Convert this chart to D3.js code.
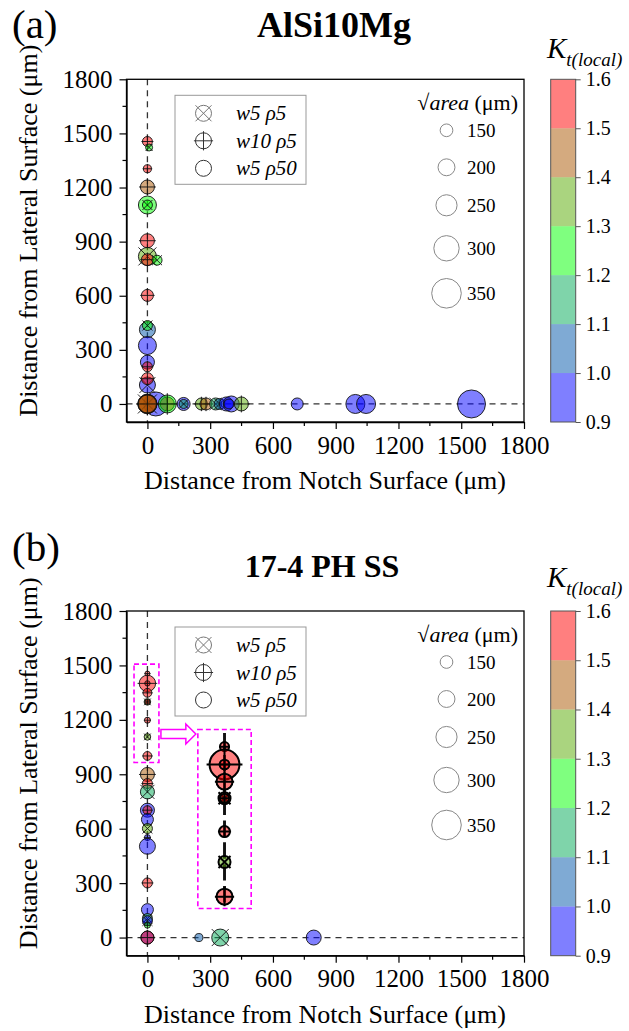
<!DOCTYPE html>
<html>
<head>
<meta charset="utf-8">
<script src="https://cdn.jsdelivr.net/npm/d3@7"></script>
<style>
  body { margin: 0; background: #fff; }
  svg { display: block; }
  svg text { font-family: "Liberation Serif", "Times New Roman", Times, serif; }
</style>
</head>
<body>
<svg id="chart" width="629" height="1031"></svg>
<script>
// ---- Panel (a): AlSi10Mg defects (drawing order = array order) ----
const aNotch    = [0, 8, 0, 0, 0, 0, 0, 0, 0, 46, 0, 0, 0, 0, 0, 0, 0, 0, 40, 0, 0, 0, 0, 95, 95, 173, 173, 258, 280, 326, 345, 377, 401, 390, 449, 716, 994, 1045, 1549];
const aLateral  = [1455, 1422, 1304, 1203, 1103, 1103, 905, 818, 800, 797, 602, 412, 435, 324, 232, 206, 105, 140, 0, 0, 0, 0, 0, 0, 0, 0, 0, 0, 0, 0, 0, 0, 0, 0, 0, 0, 0, 0, 0];
const aSqrtArea = [118, 83, 95, 166, 213, 118, 166, 213, 142, 118, 142, 189, 118, 213, 166, 118, 189, 142, 284, 225, 225, 225, 213, 166, 213, 154, 106, 142, 142, 142, 130, 166, 189, 118, 166, 142, 225, 225, 331];
const aKt       = [1.55, 1.25, 1.55, 1.45, 1.25, 1.25, 1.55, 1.35, 1.55, 1.25, 1.55, 1.05, 1.25, 0.95, 0.95, 1.55, 0.95, 1.55, 0.95, 1.55, 1.45, 1.45, 1.45, 1.55, 1.25, 0.95, 1.15, 1.35, 1.45, 1.15, 1.05, 0.95, 0.95, 0.95, 1.35, 0.95, 0.95, 0.95, 0.95];
const aType     = ["p", "x", "p", "p", "o", "x", "p", "x", "p", "x", "p", "o", "x", "o", "o", "p", "x", "p", "o", "p", "x", "o", "p", "p", "p", "o", "x", "p", "p", "x", "x", "o", "o", "o", "p", "o", "o", "o", "o"];

// ---- Panel (b): 17-4 PH SS defects ----
const bNotch    = [0, 0, 0, 0, 0, 0, 0, 0, 0, 0, 0, 0, 0, 0, 0, 0, 0, 0, 0, 0, 0, 0, 0, 0, 0, 246, 348, 795];
const bLateral  = [1455, 1401, 1401, 1349, 1299, 1299, 1198, 1106, 1001, 899, 849, 803, 702, 702, 651, 601, 551, 503, 301, 154, 105, 92, 68, 0, 0, 0, 0, 0];
const bSqrtArea = [59, 194, 63, 104, 78, 59, 71, 78, 104, 166, 118, 166, 166, 106, 142, 118, 71, 189, 118, 142, 118, 118, 71, 154, 154, 95, 201, 177];
const bKt       = [1.55, 1.55, 1.55, 1.55, 1.35, 1.55, 1.55, 1.35, 1.55, 1.45, 1.55, 1.15, 0.95, 1.55, 0.95, 1.35, 0.95, 0.95, 1.55, 0.95, 1.15, 0.95, 1.25, 0.95, 1.55, 1.05, 1.15, 0.95];
const bType     = ["p", "p", "p", "p", "x", "p", "p", "x", "p", "p", "p", "x", "o", "p", "o", "x", "p", "o", "p", "o", "x", "x", "p", "o", "p", "o", "x", "o"];

// Region of panel (b) shown magnified (data units) and where the magnified view sits
const zoomSource = { x: [-64, 55], y: [965, 1507] };
const zoomTarget = { x: [241, 496], y: [160, 1147] };

// ---- Axes, colour bar and legends ----
const axisMajor = [0, 300, 600, 900, 1200, 1500, 1800];
const axisMinor = [150, 450, 750, 1050, 1350, 1650];
const axisDomain = [-100, 1800];
const ktBreaks = [0.9, 1.0, 1.1, 1.2, 1.3, 1.4, 1.5, 1.6];
const ktColors = ["#0000ff", "#0055aa", "#00aa55", "#00ff00", "#55aa00", "#aa5500", "#ff0000"];
const sizeLegend = [150, 200, 250, 300, 350];
const typeKeys = ["x", "p", "o"];
const typeLabels = ["w5 \u03C15", "w10 \u03C15", "w5 \u03C150"];

const FONT = "'Liberation Serif','Times New Roman',Times,serif";
const svg = d3.select("#chart");

const panels = [
  { tag: "(a)", title: "AlSi10Mg", titleSize: 36, titleX: 334, top: 79.3, bottom: 422, tagY: 38, titleY: 37, ktY: 58,
    notch: aNotch, lateral: aLateral, size: aSqrtArea, kt: aKt, type: aType },
  { tag: "(b)", title: "17-4 PH SS", titleSize: 32, titleX: 322, top: 611, bottom: 955.7, tagY: 561, titleY: 577, ktY: 587,
    notch: bNotch, lateral: bLateral, size: bSqrtArea, kt: bKt, type: bType, zoom: true }
];

const plotLeft = 126.5, plotRight = 524;
const barLeft = 550.7, barW = 25;

const rScale = d3.scaleLinear().domain([0, 350]).range([0, 14.8]);
const colorScale = d3.scaleThreshold().domain(ktBreaks.slice(1, -1)).range(ktColors);

function drawMarker(g, cx, cy, r, type, fill, sw, stroke) {
  g.append("circle")
    .attr("cx", cx).attr("cy", cy).attr("r", r)
    .attr("fill", fill).attr("fill-opacity", fill === "none" ? null : 0.5)
    .attr("stroke", stroke).attr("stroke-width", sw);
  if (type === "x") {
    const a = r * 1.0;
    g.append("path")
      .attr("d", `M${cx - a},${cy - a}L${cx + a},${cy + a}M${cx - a},${cy + a}L${cx + a},${cy - a}`)
      .attr("stroke", stroke).attr("stroke-width", sw).attr("fill", "none");
  } else if (type === "p") {
    const a = r * 1.2;
    g.append("path")
      .attr("d", `M${cx - a},${cy}L${cx + a},${cy}M${cx},${cy - a}L${cx},${cy + a}`)
      .attr("stroke", stroke).attr("stroke-width", sw).attr("fill", "none");
  }
}

panels.forEach((p) => {
  const x = d3.scaleLinear().domain(axisDomain).range([plotLeft, plotRight]);
  const y = d3.scaleLinear().domain(axisDomain).range([p.bottom, p.top]);
  const g = svg.append("g");

  // panel tag and title
  g.append("text").attr("x", 12).attr("y", p.tagY).text(p.tag)
    .attr("font-family", FONT).attr("font-size", 41);
  g.append("text").attr("x", p.titleX).attr("y", p.titleY).text(p.title)
    .attr("text-anchor", "middle").attr("font-family", FONT).attr("font-size", p.titleSize).attr("font-weight", "bold");

  // reference lines along both surfaces
  g.append("line").attr("x1", x(0)).attr("x2", x(0)).attr("y1", y(axisDomain[1])).attr("y2", y(axisDomain[0]))
    .attr("stroke", "#333").attr("stroke-width", 1.3).attr("stroke-dasharray", "6,5");
  g.append("line").attr("x1", x(axisDomain[0])).attr("x2", x(axisDomain[1])).attr("y1", y(0)).attr("y2", y(0))
    .attr("stroke", "#333").attr("stroke-width", 1.3).attr("stroke-dasharray", "6,5");

  // defect markers
  const pts = p.notch.map((v, i) => ({ nx: v, ly: p.lateral[i], s: p.size[i], k: p.kt[i], t: p.type[i] }));
  const mg = g.append("g");
  pts.forEach(d => drawMarker(mg, x(d.nx), y(d.ly), rScale(d.s), d.t, colorScale(d.k), 0.9, "#111"));

  // magnified view of the notch-root region
  if (p.zoom) {
    const sx0 = x(zoomSource.x[0]), sx1 = x(zoomSource.x[1]);
    const sy0 = y(zoomSource.y[1]), sy1 = y(zoomSource.y[0]);
    const tx0 = x(zoomTarget.x[0]), tx1 = x(zoomTarget.x[1]);
    const ty0 = y(zoomTarget.y[1]), ty1 = y(zoomTarget.y[0]);
    const k = (ty1 - ty0) / (sy1 - sy0);
    const cxS = x(0), cxT = (tx0 + tx1) / 2;

    const clipId = "zoomclip";
    svg.append("defs").append("clipPath").attr("id", clipId)
      .append("rect").attr("x", tx0).attr("y", ty0).attr("width", tx1 - tx0).attr("height", ty1 - ty0);
    const zg = g.append("g").attr("clip-path", `url(#${clipId})`)
      .append("g").attr("transform", `translate(${cxT},${ty0}) scale(${k}) translate(${-cxS},${-sy0})`);
    zg.append("line").attr("x1", x(0)).attr("x2", x(0)).attr("y1", sy0 - 10).attr("y2", sy1 + 10)
      .attr("stroke", "#111").attr("stroke-width", 1.6).attr("stroke-dasharray", "9,3");
    pts.filter(d => d.nx >= zoomSource.x[0] && d.nx <= zoomSource.x[1] &&
                    d.ly >= zoomSource.y[0] - 20 && d.ly <= zoomSource.y[1])
      .forEach(d => drawMarker(zg, x(d.nx), y(d.ly), rScale(d.s), d.t, colorScale(d.k), 1.1, "#000"));

    const mag = "#ff00ff";
    g.append("rect").attr("x", sx0).attr("y", sy0).attr("width", sx1 - sx0).attr("height", sy1 - sy0)
      .attr("fill", "none").attr("stroke", mag).attr("stroke-width", 1.6).attr("stroke-dasharray", "5,3");
    g.append("rect").attr("x", tx0).attr("y", ty0).attr("width", tx1 - tx0).attr("height", ty1 - ty0)
      .attr("fill", "none").attr("stroke", mag).attr("stroke-width", 1.6).attr("stroke-dasharray", "5,3");

    // hollow arrow from source box to magnified box
    const ay = ty0 + 4.5, ax0 = sx1 + 2, ax1 = tx0 - 2, head = 10, sh = 4.5, hh = 10;
    g.append("path")
      .attr("d", `M${ax0},${ay - sh}L${ax1 - head},${ay - sh}L${ax1 - head},${ay - hh}L${ax1},${ay}` +
                 `L${ax1 - head},${ay + hh}L${ax1 - head},${ay + sh}L${ax0},${ay + sh}Z`)
      .attr("fill", "#fff").attr("stroke", mag).attr("stroke-width", 1.5);
  }

  // frame
  g.append("rect").attr("x", plotLeft).attr("y", p.top).attr("width", plotRight - plotLeft).attr("height", p.bottom - p.top)
    .attr("fill", "none").attr("stroke", "#000").attr("stroke-width", 1.3);

  // axes
  const xa = g.append("g").attr("transform", `translate(0,${p.bottom})`)
    .call(d3.axisBottom(x).tickValues(axisMajor).tickFormat(d3.format("d")).tickSize(7).tickSizeOuter(0).tickPadding(7));
  const ya = g.append("g").attr("transform", `translate(${plotLeft},0)`)
    .call(d3.axisLeft(y).tickValues(axisMajor).tickFormat(d3.format("d")).tickSize(7).tickSizeOuter(0).tickPadding(7));
  [xa, ya].forEach(a => {
    a.attr("font-family", FONT);
    a.select(".domain").attr("stroke", "#000").attr("stroke-width", 1.3);
    a.selectAll(".tick line").attr("stroke", "#000").attr("stroke-width", 1.2);
    a.selectAll("text").attr("font-family", FONT).attr("font-size", 25).attr("fill", "#000");
  });
  g.append("g").selectAll("line").data(axisMinor).join("line")
    .attr("x1", d => x(d)).attr("x2", d => x(d)).attr("y1", p.bottom).attr("y2", p.bottom + 4)
    .attr("stroke", "#000").attr("stroke-width", 1.2);
  g.append("g").selectAll("line").data(axisMinor).join("line")
    .attr("y1", d => y(d)).attr("y2", d => y(d)).attr("x1", plotLeft).attr("x2", plotLeft - 4)
    .attr("stroke", "#000").attr("stroke-width", 1.2);

  // axis titles
  g.append("text").attr("x", 325).attr("y", p.bottom + 67)
    .attr("text-anchor", "middle").attr("font-family", FONT).attr("font-size", 26)
    .text("Distance from Notch Surface (\u03BCm)");
  g.append("text").attr("transform", `translate(37,${(p.top + p.bottom) / 2 - 20}) rotate(-90)`)
    .attr("text-anchor", "middle").attr("font-family", FONT).attr("font-size", 26)
    .text("Distance from Lateral Surface (\u03BCm)");

  // defect-type legend
  const lgTop = p.top + 16;
  g.append("rect").attr("x", 175).attr("y", lgTop).attr("width", 131).attr("height", 89)
    .attr("fill", "#fff").attr("stroke", "#999").attr("stroke-width", 1);
  typeKeys.forEach((t, i) => {
    const cy = lgTop + 18 + i * 27.5;
    drawMarker(g, 203.5, cy, 8, t, "none", 1, t === "x" ? "#777" : "#333");
    g.append("text").attr("x", 236).attr("y", cy + 7).text(typeLabels[i])
      .attr("font-family", FONT).attr("font-size", 21).attr("font-style", "italic");
  });

  // defect-size legend
  const st = g.append("text").attr("x", 518).attr("y", p.top + 31)
    .attr("text-anchor", "end").attr("font-family", FONT).attr("font-size", 22);
  st.append("tspan").text("\u221A");
  st.append("tspan").attr("font-style", "italic").text("area");
  st.append("tspan").text(" (\u03BCm)");
  const sizeY = [51, 88, 126, 169, 214];
  sizeLegend.forEach((v, i) => {
    const cy = p.top + sizeY[i];
    g.append("circle").attr("cx", 446.5).attr("cy", cy).attr("r", rScale(v))
      .attr("fill", "none").attr("stroke", "#888").attr("stroke-width", 1);
    g.append("text").attr("x", 467).attr("y", cy + 6.5).text(v)
      .attr("font-family", FONT).attr("font-size", 19);
  });

  // Kt colour bar
  const yc = d3.scaleLinear().domain([ktBreaks[0], ktBreaks[ktBreaks.length - 1]]).range([p.bottom, p.top]);
  g.append("g").selectAll("rect").data(ktColors).join("rect")
    .attr("x", barLeft).attr("width", barW)
    .attr("y", (c, i) => yc(ktBreaks[i + 1])).attr("height", (c, i) => yc(ktBreaks[i]) - yc(ktBreaks[i + 1]))
    .attr("fill", c => c).attr("fill-opacity", 0.5);
  g.append("rect").attr("x", barLeft).attr("y", p.top).attr("width", barW).attr("height", p.bottom - p.top)
    .attr("fill", "none").attr("stroke", "#555").attr("stroke-width", 1);
  const ca = g.append("g").attr("transform", `translate(${barLeft + barW},0)`)
    .call(d3.axisRight(yc).tickValues(ktBreaks).tickFormat(d3.format(".1f")).tickSize(5).tickSizeOuter(0).tickPadding(5));
  ca.attr("font-family", FONT);
  ca.select(".domain").remove();
  ca.selectAll(".tick line").attr("stroke", "#555");
  ca.selectAll("text").attr("font-family", FONT).attr("font-size", 20).attr("fill", "#000");

  const kt = g.append("text").attr("x", 547).attr("y", p.ktY).attr("font-family", FONT).attr("font-style", "italic");
  kt.append("tspan").attr("font-size", 29).text("K");
  kt.append("tspan").attr("font-size", 19).attr("dy", 8).text("t(local)");
});
</script>
</body>
</html>
